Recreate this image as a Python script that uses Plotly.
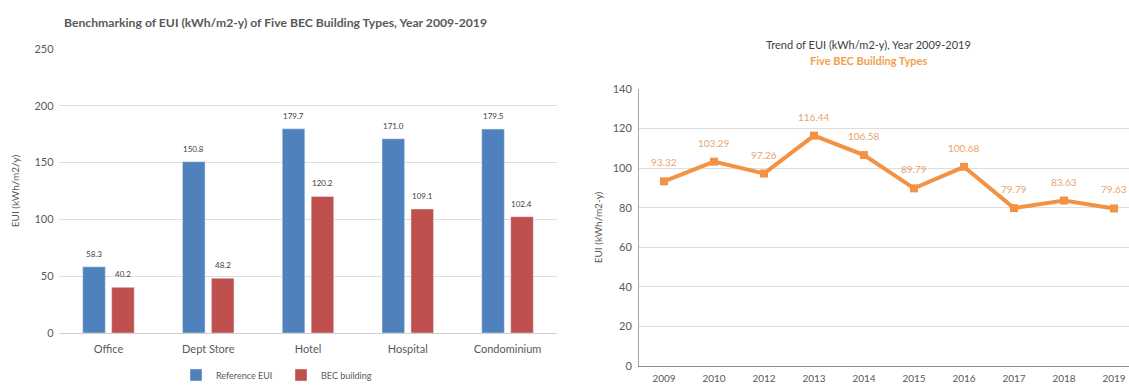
import plotly.graph_objects as go

# Benchmark EUI by building type
building_types = ["Office", "Dept Store", "Hotel", "Hospital", "Condominium"]
reference_eui = [58.3, 150.8, 179.7, 171.0, 179.5]
bec_eui = [40.2, 48.2, 120.2, 109.1, 102.4]

# Yearly trend of EUI, five BEC building types
years = ["2009", "2010", "2012", "2013", "2014", "2015", "2016", "2017", "2018", "2019"]
trend_eui = [93.32, 103.29, 97.26, 116.44, 106.58, 89.79, 100.68, 79.79, 83.63, 79.63]

FONT = "Lato"
W, H = 1129, 385
BLUE = "#4F81BD"
RED = "#C0504D"
ORANGE = "#F39243"
LABEL_ORANGE = "#E8A46C"
GRID = "#DDDDDD"
TICK = "#595959"

fig = go.Figure()

fig.add_trace(go.Bar(
    x=building_types, y=reference_eui, name="Reference EUI",
    marker_color=BLUE, xaxis="x", yaxis="y",
))
fig.add_trace(go.Bar(
    x=building_types, y=bec_eui, name="BEC building",
    marker_color=RED, xaxis="x", yaxis="y",
))

fig.add_trace(go.Scatter(
    x=years, y=trend_eui, mode="lines+markers", name="EUI trend",
    line=dict(color=ORANGE, width=4),
    marker=dict(symbol="square", size=8, color=ORANGE),
    xaxis="x2", yaxis="y2", showlegend=False,
))

annotations = []
# value labels above the grouped bars
offset = 0.145
for i, (r, b) in enumerate(zip(reference_eui, bec_eui)):
    for dx, v in ((-offset, r), (offset, b)):
        annotations.append(dict(
            x=i + dx, y=v, xref="x", yref="y", text=f"{v:.1f}",
            showarrow=False, yshift=13, yanchor="middle",
            font=dict(family=FONT, size=8, color="#404040"),
        ))
# value labels above the trend points
for i, v in enumerate(trend_eui):
    annotations.append(dict(
        x=i, y=v, xref="x2", yref="y2", text=f"{v:.2f}",
        showarrow=False, yshift=19, yanchor="middle",
        font=dict(family=FONT, size=10, color=LABEL_ORANGE),
    ))

# chart titles
annotations += [
    dict(x=275 / W, y=1 - 22 / H, xref="paper", yref="paper",
         text="<b>Benchmarking of EUI (kWh/m2-y) of Five BEC Building Types, Year 2009-2019</b>",
         showarrow=False, xanchor="center", yanchor="middle",
         font=dict(family=FONT, size=12.2, color="#595959")),
    dict(x=868 / W, y=1 - 44 / H, xref="paper", yref="paper",
         text="Trend of EUI (kWh/m2-y), Year 2009-2019",
         showarrow=False, xanchor="center", yanchor="middle",
         font=dict(family=FONT, size=11, color="#404040")),
    dict(x=868 / W, y=1 - 61 / H, xref="paper", yref="paper",
         text="<b>Five BEC Building Types</b>",
         showarrow=False, xanchor="center", yanchor="middle",
         font=dict(family=FONT, size=11, color="#F0A04B")),
]

fig.update_layout(
    width=W, height=H,
    margin=dict(l=0, r=0, t=0, b=0, autoexpand=False),
    paper_bgcolor="white", plot_bgcolor="white",
    font=dict(family=FONT, color=TICK),
    barmode="group", bargap=0.42, bargroupgap=0.22,
    showlegend=True,
    legend=dict(
        orientation="h", x=281 / W, y=1 - 375 / H,
        xanchor="center", yanchor="middle",
        font=dict(family=FONT, size=9, color=TICK),
        itemwidth=30, tracegroupgap=0, entrywidth=60,
    ),
    annotations=annotations,
    xaxis=dict(
        domain=[58.6 / W, 557.4 / W], anchor="y", automargin=False,
        showgrid=False, showline=False, ticks="",
        tickfont=dict(family=FONT, size=11, color=TICK),
        ticklabelstandoff=8,
    ),
    yaxis=dict(
        domain=[1 - 333 / H, 1 - 49 / H], anchor="x", automargin=False,
        range=[0, 250], dtick=50,
        showgrid=True, gridcolor=GRID, gridwidth=1,
        zeroline=True, zerolinecolor="#D0D0D0", zerolinewidth=1,
        showline=False, ticks="",
        tickfont=dict(family=FONT, size=11, color=TICK),
        ticklabelstandoff=4,
        title=dict(text="EUI (kWh/m2/y)", standoff=12,
                   font=dict(family=FONT, size=10, color=TICK)),
    ),
    xaxis2=dict(
        domain=[639 / W, 1.0], anchor="y2", automargin=False,
        type="category", range=[-0.5, 9.3],
        showgrid=False, showline=True, linecolor="#8C8C8C", linewidth=1,
        ticks="",
        tickfont=dict(family=FONT, size=10, color=TICK),
        ticklabelstandoff=3,
    ),
    yaxis2=dict(
        domain=[1 - 366 / H, 1 - 89 / H], anchor="x2", automargin=False,
        range=[0, 140], dtick=20,
        showgrid=True, gridcolor=GRID, gridwidth=1,
        zeroline=False,
        showline=True, linecolor="#A6A6A6", linewidth=1,
        ticks="",
        tickfont=dict(family=FONT, size=11, color=TICK),
        ticklabelstandoff=4,
        title=dict(text="EUI (kWh/m2-y)", standoff=8,
                   font=dict(family=FONT, size=10, color=TICK)),
    ),
)

fig.write_html("out.html")
